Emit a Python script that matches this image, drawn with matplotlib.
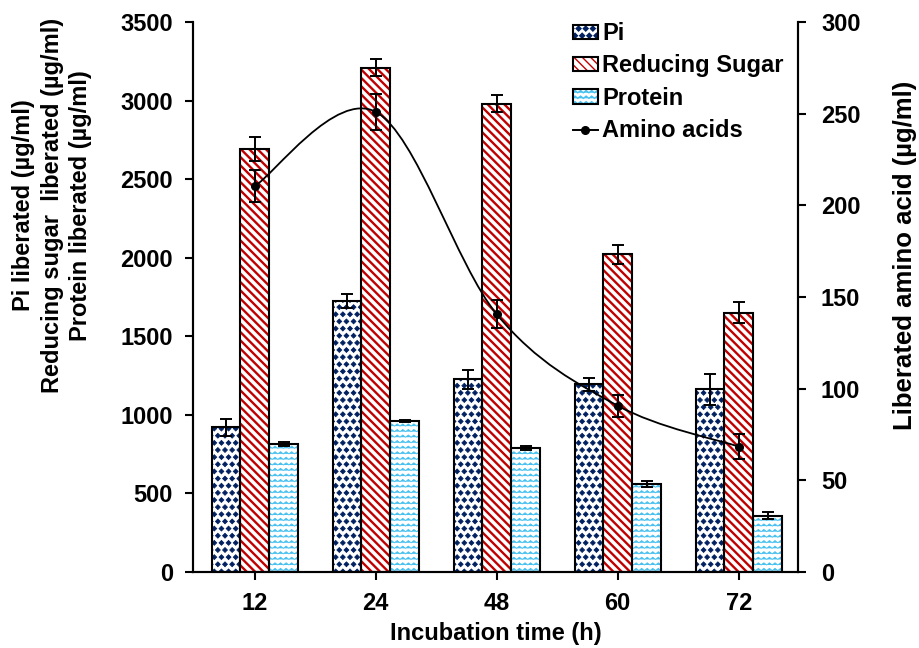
import numpy as np
import matplotlib
matplotlib.use('Agg')
import matplotlib.pyplot as plt
import matplotlib.hatch as mhatch
from matplotlib.path import Path
from matplotlib.patches import PathPatch, Patch
from matplotlib.lines import Line2D

plt.rcParams['font.family'] = ['Liberation Sans', 'DejaVu Sans']
plt.rcParams['font.weight'] = 'bold'
plt.rcParams['axes.labelweight'] = 'bold'
plt.rcParams['font.size'] = 17

# data
times = ['12', '24', '48', '60', '72']
pi = [920, 1724, 1226, 1194, 1162]
pi_err = [56, 43, 62, 40, 100]
sugar = [2692, 3209, 2980, 2022, 1650]
sugar_err = [79, 55, 53, 60, 68]
protein = [812, 959, 787, 560, 358]
protein_err = [13, 7, 13, 16, 22]
amino = [210.5, 251, 140.6, 90.7, 68.4]
amino_err = [8.6, 10, 7.5, 5.9, 6.9]


# excel-ish fill patterns: diamonds instead of '.', zigzag instead of '-'
class DiamondHatch(mhatch.Shapes):
    filled = True
    size = 0.34

    def __init__(self, hatch, density):
        self.num_rows = int(hatch.count('.') * density * 1.2)
        d = Path.unit_regular_polygon(4)
        self.shape_vertices = d.vertices
        self.shape_codes = d.codes
        super().__init__(hatch, density)


class ZigZagHatch(mhatch.HatchPatternBase):
    amp = 0.011

    def __init__(self, hatch, density):
        self.num_lines = int(hatch.count('-') * density)
        self.num_seg = 2 * self.num_lines
        self.num_vertices = self.num_lines * (self.num_seg + 1)

    def set_vertices_and_codes(self, vertices, codes):
        k = self.num_seg + 1
        xs = np.linspace(0, 1, k)
        wig = np.where(np.arange(k) % 2 == 0, -1.0, 1.0) * self.amp
        for i in range(self.num_lines):
            row = (i + 0.5) / self.num_lines
            vertices[i*k:(i+1)*k, 0] = xs
            vertices[i*k:(i+1)*k, 1] = row + wig
            codes[i*k] = Path.MOVETO
            codes[i*k+1:(i+1)*k] = Path.LINETO


mhatch._hatch_types = [ZigZagHatch if t is mhatch.HorizontalHatch else
                       DiamondHatch if t is mhatch.SmallFilledCircles else t
                       for t in mhatch._hatch_types]

series = [
    (pi, pi_err, '#002060', '..', 0.6, 'Pi'),
    (sugar, sugar_err, '#C00000', '\\\\\\\\', 1.7, 'Reducing Sugar'),
    (protein, protein_err, '#45C0F0', '---', 0.6, 'Protein'),
]

fig, ax = plt.subplots(figsize=(9.2, 6.48), dpi=100)
fig.subplots_adjust(left=0.2098, right=0.8674, bottom=0.1173, top=0.966)
ax2 = ax.twinx()

x = np.arange(len(times))
w = 0.238
handles = []
for i, (vals, errs, col, hat, hlw, name) in enumerate(series):
    pos = x + (i - 1) * w
    with plt.rc_context({'hatch.linewidth': hlw}):
        bars = ax.bar(pos, vals, w, color='white', edgecolor=col, hatch=hat,
                      linewidth=0, zorder=2)
        for b in bars:
            if hasattr(b, 'set_hatch_linewidth'):
                b.set_hatch_linewidth(hlw)
        ax.bar(pos, vals, w, fill=False, edgecolor='black', linewidth=1.5, zorder=3)
        ax.errorbar(pos, vals, yerr=errs, fmt='none', ecolor='black',
                    elinewidth=1.4, capsize=4, capthick=1.4, zorder=4)
        hp = Patch(facecolor='white', edgecolor=col, hatch=hat, linewidth=0)
        if hasattr(hp, 'set_hatch_linewidth'):
            hp.set_hatch_linewidth(hlw)
    handles.append(((hp, Patch(fill=False, edgecolor='black', linewidth=1.5)), name))

# smoothed line through amino acid points (catmull-rom as bezier segments)
pts = np.column_stack([x, amino]).astype(float)
ext = np.vstack([pts[0], pts, pts[-1]])
verts = [pts[0]]
codes = [Path.MOVETO]
for i in range(len(pts) - 1):
    p0, p1, p2, p3 = ext[i], ext[i+1], ext[i+2], ext[i+3]
    verts += [p1 + (p2 - p0) / 6, p2 - (p3 - p1) / 6, p2]
    codes += [Path.CURVE4] * 3
ax2.add_patch(PathPatch(Path(verts, codes), fill=False, edgecolor='black',
                        linewidth=1.3, zorder=5))
ax2.errorbar(x, amino, yerr=amino_err, fmt='o', color='black', markersize=5.5,
             elinewidth=1.4, capsize=4, capthick=1.4, zorder=6)
handles.append((Line2D([], [], color='black', marker='o', markersize=5.5, lw=1.4),
                'Amino acids'))

ax.set_xlim(-0.51, 4.49)
ax.set_ylim(0, 3500)
ax.set_yticks(np.arange(0, 3501, 500))
ax2.set_ylim(0, 300)
ax2.set_yticks(np.arange(0, 301, 50))
ax.set_xticks(x)
ax.set_xticklabels(times)

for a in (ax, ax2):
    a.spines['top'].set_visible(False)
    for s in a.spines.values():
        s.set_linewidth(1.5)
    a.tick_params(width=1.5, length=5.5, direction='out')
ax.tick_params(axis='y', pad=9)
ax.tick_params(axis='x', pad=9)
ax2.tick_params(axis='y', pad=11)

ax.set_xlabel('Incubation time (h)', labelpad=5)
ylab = ax.set_ylabel('Pi liberated (µg/ml)\nReducing sugar  liberated (µg/ml)\nProtein liberated (µg/ml)',
                     linespacing=1.32)
ylab.set_va('center')
ax.yaxis.set_label_coords(-0.233, 0.667)
ylab2 = ax2.set_ylabel('Liberated amino acid (µg/ml)', fontsize=18.5)
ylab2.set_va('center')
ax2.yaxis.set_label_coords(1.177, 0.575)

ax2.legend([h for h, _ in handles], [n for _, n in handles], loc='upper left',
           bbox_to_anchor=(0.628, 1.0), frameon=False, borderpad=0,
           borderaxespad=0, handlelength=1.05, handleheight=0.55,
           handletextpad=0.2, labelspacing=0.4)

fig.savefig('out.png', dpi=100)
